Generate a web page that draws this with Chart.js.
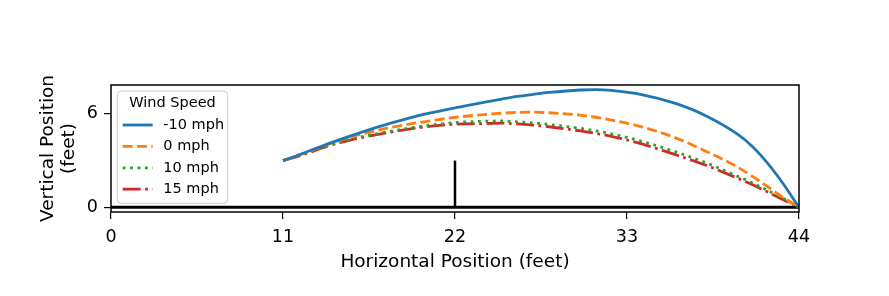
<!DOCTYPE html>
<html>
<head>
<meta charset="utf-8">
<script src="https://cdn.jsdelivr.net/npm/chart.js@4.4.1/dist/chart.umd.min.js"></script>
<style>
  html, body { margin: 0; padding: 0; background: #fff; }
  canvas { display: block; }
</style>
</head>
<body>
<canvas id="trajChart" width="889" height="296"></canvas>
<script>
// horizontal positions (feet) where the trajectories were read
const xs = [11, 12, 14, 16, 18, 20, 22, 24, 25, 26, 27, 28, 30, 31, 32, 34, 36, 38, 40, 41, 42, 43, 44];
const windLabels = ["-10 mph", "0 mph", "10 mph", "15 mph"];
const yMinus10 = [3.0, 3.36, 4.12, 4.81, 5.43, 5.97, 6.38, 6.77, 6.95, 7.12, 7.25, 7.37, 7.53, 7.55, 7.5, 7.22, 6.7, 5.9, 4.74, 3.92, 2.82, 1.5, 0];
const yZero = [3.0, 3.35, 4.08, 4.69, 5.15, 5.49, 5.77, 5.97, 6.04, 6.09, 6.11, 6.07, 5.92, 5.78, 5.6, 5.15, 4.5, 3.62, 2.62, 2.0, 1.32, 0.62, 0];
const yPlus10 = [3.0, 3.3, 4.02, 4.52, 4.9, 5.22, 5.44, 5.53, 5.54, 5.49, 5.42, 5.32, 5.07, 4.91, 4.72, 4.22, 3.6, 2.88, 2.02, 1.58, 1.08, 0.57, 0];
const yPlus15 = [3.0, 3.28, 3.98, 4.47, 4.85, 5.15, 5.33, 5.38, 5.4, 5.35, 5.27, 5.17, 4.9, 4.74, 4.56, 4.05, 3.41, 2.72, 1.9, 1.46, 0.98, 0.48, 0];

// court floor and net
const groundX = [0, 44];
const groundY = [0, 0];
const netX = [22, 22];
const netY = [0, 3];

const xTicks = [0, 11, 22, 33, 44];
const yTicks = [0, 6];

const FONT = "'DejaVu Sans', sans-serif";
const LW = 2.8;
const pts = (xArr, yArr) => xArr.map((x, i) => ({ x, y: yArr[i] }));

const curve = (label, ys, color, dash) => ({
  label,
  data: pts(xs, ys),
  borderColor: color,
  borderWidth: LW,
  borderDash: dash,
  borderCapStyle: "butt",
  pointRadius: 0,
  cubicInterpolationMode: "monotone",
  fill: false,
});

// legend box drawn inside the plot, upper left
const boxLegend = {
  id: "boxLegend",
  afterDatasetsDraw(chart) {
    const ctx = chart.ctx;
    const area = chart.chartArea;
    const x0 = area.left + 6.3, y0 = area.top + 6;
    const w = 110.4, h = 112.3, r = 4;
    ctx.save();
    ctx.beginPath();
    ctx.moveTo(x0 + r, y0);
    ctx.arcTo(x0 + w, y0, x0 + w, y0 + h, r);
    ctx.arcTo(x0 + w, y0 + h, x0, y0 + h, r);
    ctx.arcTo(x0, y0 + h, x0, y0, r);
    ctx.arcTo(x0, y0, x0 + w, y0, r);
    ctx.closePath();
    ctx.fillStyle = "rgba(255,255,255,0.8)";
    ctx.fill();
    ctx.strokeStyle = "#cccccc";
    ctx.lineWidth = 1;
    ctx.stroke();

    ctx.fillStyle = "#000";
    ctx.font = "14.5px " + FONT;
    ctx.textBaseline = "middle";
    ctx.textAlign = "center";
    ctx.fillText("Wind Speed", x0 + w / 2, y0 + 12.3);
    ctx.textAlign = "left";

    windLabels.forEach((lab, i) => {
      const ds = chart.data.datasets[i];
      const y = y0 + 34 + i * 21.4;
      ctx.beginPath();
      ctx.setLineDash(ds.borderDash || []);
      ctx.lineCap = "butt";
      ctx.strokeStyle = ds.borderColor;
      ctx.lineWidth = ds.borderWidth;
      ctx.moveTo(x0 + 5.4, y);
      ctx.lineTo(x0 + 35.4, y);
      ctx.stroke();
      ctx.setLineDash([]);
      ctx.fillStyle = "#000";
      ctx.fillText(lab, x0 + 46, y);
    });
    ctx.restore();
  },
  afterDraw(chart) {
    const ctx = chart.ctx;
    const a = chart.chartArea;
    ctx.save();
    ctx.strokeStyle = "#000";
    ctx.lineWidth = 1.5;
    ctx.strokeRect(a.left, a.top, a.right - a.left, a.bottom - a.top);
    ctx.restore();
  },
};

new Chart(document.getElementById("trajChart"), {
  type: "line",
  data: {
    datasets: [
      curve(windLabels[0], yMinus10, "#1f77b4", []),
      curve(windLabels[1], yZero, "#ff7f0e", [10, 4.3]),
      curve(windLabels[2], yPlus10, "#2ca02c", [2.8, 4.6]),
      curve(windLabels[3], yPlus15, "#d62728", [17.9, 4.5, 2.8, 4.5]),
      {
        label: "ground",
        data: pts(groundX, groundY),
        borderColor: "#000",
        borderWidth: 3,
        pointRadius: 0,
        tension: 0,
      },
      {
        label: "net",
        data: pts(netX, netY),
        borderColor: "#000",
        borderWidth: 2.5,
        pointRadius: 0,
        tension: 0,
      },
    ],
  },
  options: {
    responsive: false,
    animation: false,
    devicePixelRatio: 1,
    layout: { padding: { left: 0, top: 85, right: 90, bottom: 0 } },
    plugins: {
      legend: { display: false },
      tooltip: { enabled: false },
    },
    scales: {
      x: {
        type: "linear",
        min: 0,
        max: 44,
        afterBuildTicks: s => { s.ticks = xTicks.map(v => ({ value: v })); },
        afterFit: s => { s.height = 84; },
        border: { display: false },
        grid: { drawOnChartArea: false, color: "#000", lineWidth: 1.2, tickLength: 7 },
        ticks: { color: "#000", font: { family: FONT, size: 17.5 }, padding: 8, maxRotation: 0 },
        title: {
          display: true,
          text: "Horizontal Position (feet)",
          color: "#000",
          font: { family: FONT, size: 18.5 },
          padding: { top: 0, bottom: 23 },
        },
      },
      y: {
        type: "linear",
        min: -0.3,
        max: 7.85,
        afterBuildTicks: s => { s.ticks = yTicks.map(v => ({ value: v })); },
        afterFit: s => { s.width = 111; },
        border: { display: false },
        grid: { drawOnChartArea: false, color: "#000", lineWidth: 1.2, tickLength: 7 },
        ticks: { color: "#000", font: { family: FONT, size: 17.5 }, padding: 6 },
        title: {
          display: true,
          text: ["Vertical Position", "(feet)"],
          color: "#000",
          font: { family: FONT, size: 18.5, lineHeight: 1.15 },
          padding: { top: 37.5, bottom: 0 },
        },
      },
    },
  },
  plugins: [boxLegend],
});
</script>
</body>
</html>
